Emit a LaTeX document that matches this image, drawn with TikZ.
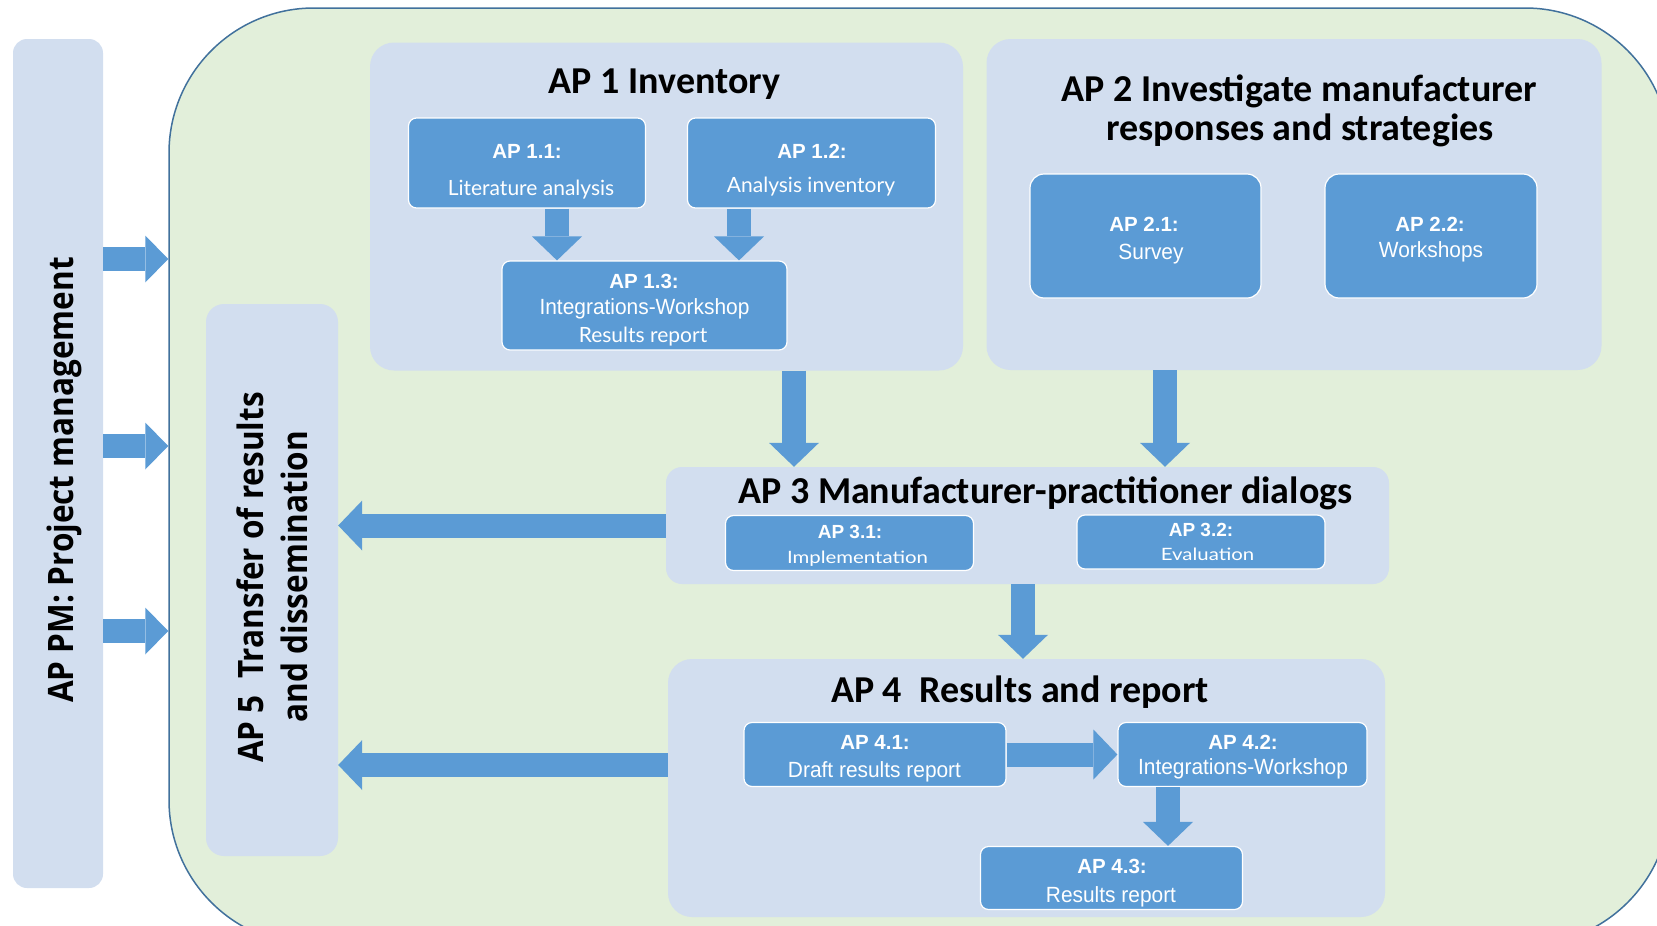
\documentclass[tikz,border=0pt]{standalone}
\usepackage{fontspec}
\usetikzlibrary{arrows.meta}
\newfontfamily\ttlfont{Carlito}
\newfontfamily\pmfont[FakeStretch=0.9]{Open Sans}
\newfontfamily\hdfont{Liberation Sans}
\newfontfamily\nrwfont[FakeStretch=0.95]{Liberation Sans}
\newfontfamily\twfont{Lato}
\newfontfamily\twwfont[FakeStretch=1.2]{Lato}
\definecolor{grn}{HTML}{E2EFDA}
\definecolor{grnline}{HTML}{41719C}
\definecolor{lb}{HTML}{D2DEEF}
\definecolor{bb}{HTML}{5B9BD5}
\begin{document}
\begin{tikzpicture}[x=1pt,y=-1pt,
  wh/.style 2 args={minimum width=#1pt, minimum height=#2pt},
  cont/.style={fill=lb, draw=none, rounded corners=24pt, inner sep=0pt},
  bbox/.style={fill=bb, draw=white, line width=1.2pt, rounded corners=8pt, inner sep=0pt},
  barrow/.style={draw=bb, line width=24pt, -{Triangle[width=50pt,length=24pt,line width=0pt]}},
  pmarrow/.style={draw=bb, line width=24pt, -{Triangle[width=47pt,length=23pt,line width=0pt]}},
  ttl/.style={font=\ttlfont\bfseries\fontsize{38}{44}\selectfont, text=black, inner sep=0pt, anchor=base},
  pmtxt/.style={font=\pmfont\bfseries\fontsize{35}{40}\selectfont, text=black, inner sep=0pt, anchor=base, rotate=90},
  hd/.style={font=\hdfont\bfseries\fontsize{20.5}{24}\selectfont, text=white, inner sep=0pt, anchor=base},
  hds/.style={font=\hdfont\bfseries\fontsize{19}{22}\selectfont, text=white, inner sep=0pt, anchor=base},
  nrw/.style={font=\nrwfont\fontsize{22}{26}\selectfont, text=white, inner sep=0pt, anchor=base},
  tw/.style={font=\twfont\fontsize{21}{25}\selectfont, text=white, inner sep=0pt, anchor=base},
  tww/.style={font=\twwfont\fontsize{17}{20}\selectfont, text=white, inner sep=0pt, anchor=base},
]
\useasboundingbox (0,0) rectangle (1657,926);
\begin{scope}
\clip (0,0) rectangle (1657,926);
\node[fill=grn, draw=grnline, line width=1.5pt, rounded corners=145pt, inner sep=0pt, wh={1501}{937}] (main) at (919.5,476.5) {};
\end{scope}

% containers
\node[cont, rounded corners=14pt, wh={90}{849}] (pm) at (58,463.5) {};
\node[cont, rounded corners=18pt, wh={132}{552}] (ap5) at (272,580) {};
\node[cont, wh={593}{328}] (ap1) at (666.5,206.5) {};
\node[cont, wh={615}{331}] (ap2) at (1294,204.5) {};
\node[cont, rounded corners=16pt, wh={723}{117}] (ap3) at (1027.5,525.5) {};
\node[cont, wh={717}{258}] (ap4) at (1026.5,788) {};

% blue boxes
\node[bbox, wh={237}{90}] (ap11) at (527,163) {};
\node[bbox, wh={248}{90}] (ap12) at (811.5,163) {};
\node[bbox, wh={285}{89}] (ap13) at (644.5,305.5) {};
\node[bbox, rounded corners=14pt, wh={231}{124}] (ap21) at (1145.5,236) {};
\node[bbox, rounded corners=14pt, wh={212}{124}] (ap22) at (1431,236) {};
\node[bbox, wh={248}{55}] (ap31) at (849.5,543) {};
\node[bbox, wh={248}{54}] (ap32) at (1201,542) {};
\node[bbox, wh={262}{64}] (ap41) at (875,754.5) {};
\node[bbox, wh={249}{64}] (ap42) at (1242.5,754.5) {};
\node[bbox, wh={262}{63}] (ap43) at (1111.5,878) {};

% connectors
\draw[pmarrow] (pm.east |- 0,259) -- (main.west |- 0,259);
\draw[pmarrow] (pm.east |- 0,446) -- (main.west |- 0,446);
\draw[pmarrow] (pm.east |- 0,631) -- (main.west |- 0,631);
\coordinate (a11) at ([xshift=30pt]ap11.south);
\coordinate (a12) at ([xshift=-72.5pt]ap12.south);
\draw[barrow] (a11) -- (a11 |- ap13.north);
\draw[barrow] (a12) -- (a12 |- ap13.north);
\coordinate (a1) at ([xshift=127.5pt]ap1.south);
\coordinate (a2) at ([xshift=-129pt]ap2.south);
\draw[barrow] (a1) -- (a1 |- ap3.north);
\draw[barrow] (a2) -- (a2 |- ap3.north);
\coordinate (a3) at ([xshift=-4.5pt]ap3.south);
\draw[barrow] (a3) -- (a3 |- ap4.north);
\draw[barrow] (ap41.east) -- (ap42.west);
\coordinate (a42) at ([xshift=-74.5pt]ap42.south);
\draw[barrow] (a42) -- (a42 |- ap43.north);
\draw[barrow] (ap3.west) -- (ap5.east |- ap3.west);
\coordinate (a4) at ([yshift=23pt]ap4.west);
\draw[barrow] (a4) -- (a4 -| ap5.east);

% titles
\node[ttl] (t1) at (664.5,93) {AP 1 Inventory};
\node[ttl] (t2a) at (1299.5,101) {AP 2 Investigate manufacturer};
\node[ttl] (t2b) at (1300,140) {responses and strategies};
\node[ttl] (t3) at (1045.5,503) {AP 3 Manufacturer-practitioner dialogs};
\node[ttl] (t4) at (1020,702) {AP 4\ \ Results and report};

\node[pmtxt] (tpm) at (73,480) {AP PM: Project management};
\node[pmtxt] (t5a) at (263,577.5) {AP 5\ \ Transfer of results};
\node[pmtxt] (t5b) at (307,576.5) {and dissemination};

% box labels
\node[hd] (l11) at (527,158) {AP 1.1:};
\node[tw] (s11) at (531,195) {Literature analysis};
\node[hd] (l12) at (812,158) {AP 1.2:};
\node[tw] (s12) at (811,192) {Analysis inventory};
\node[hd] (l13) at (644,288) {AP 1.3:};
\node[nrw] (s13a) at (644.5,314) {Integrations-Workshop};
\node[tw] (s13b) at (643,342) {Results report};
\node[hd] (l21) at (1144,231) {AP 2.1:};
\node[nrw] (s21) at (1151,259) {Survey};
\node[hd] (l22) at (1430,231) {AP 2.2:};
\node[nrw] (s22) at (1431,257) {Workshops};
\node[hds] (l31) at (850,538) {AP 3.1:};
\node[tww] (s31) at (857.5,563) {Implementation};
\node[hds] (l32) at (1201,536) {AP 3.2:};
\node[tww] (s32) at (1207.5,560) {Evaluation};
\node[hd] (l41) at (875,749) {AP 4.1:};
\node[nrw] (s41) at (874.5,777) {Draft results report};
\node[hd] (l42) at (1243,749) {AP 4.2:};
\node[nrw] (s42) at (1243,774) {Integrations-Workshop};
\node[hd] (l43) at (1112,873) {AP 4.3:};
\node[nrw] (s43) at (1111,902) {Results report};
\end{tikzpicture}
\end{document}
